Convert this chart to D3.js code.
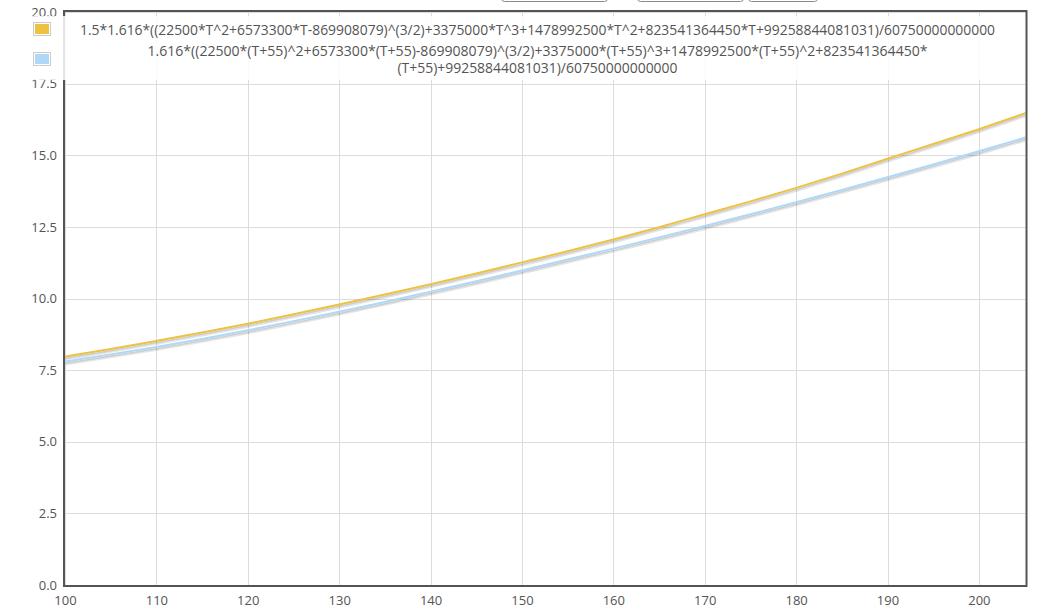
<!DOCTYPE html>
<html>
<head>
<meta charset="utf-8">
<script src="https://cdn.jsdelivr.net/npm/d3@7"></script>
<style>
  html, body { margin: 0; padding: 0; background: #fff; }
  svg { display: block; }
  text { font-family: "Open Sans", sans-serif; }
</style>
</head>
<body>
<svg id="chart" width="1045" height="609"></svg>
<script>
// ---- data ----
const seriesNames = [
  "1.5*1.616*((22500*T^2+6573300*T-869908079)^(3/2)+3375000*T^3+1478992500*T^2+823541364450*T+99258844081031)/60750000000000",
  "1.616*((22500*(T+55)^2+6573300*(T+55)-869908079)^(3/2)+3375000*(T+55)^3+1478992500*(T+55)^2+823541364450*",
  "(T+55)+99258844081031)/60750000000000"
];
const tValues = [100, 105, 110, 115, 120, 125, 130, 135, 140, 145, 150, 155, 160, 165, 170, 175, 180, 185, 190, 195, 200, 205, 210];
const goldValues = [7.97, 8.24, 8.52, 8.81, 9.12, 9.45, 9.79, 10.14, 10.50, 10.87, 11.26, 11.65, 12.06, 12.49, 12.94, 13.39, 13.86, 14.36, 14.88, 15.39, 15.91, 16.46, 17.02];
const blueValues = [7.80, 8.05, 8.31, 8.59, 8.89, 9.21, 9.54, 9.88, 10.24, 10.60, 10.98, 11.36, 11.74, 12.13, 12.53, 12.94, 13.36, 13.79, 14.23, 14.68, 15.14, 15.61, 16.09];
const xTicks = [100, 110, 120, 130, 140, 150, 160, 170, 180, 190, 200];
const yTicks = [0, 2.5, 5, 7.5, 10, 12.5, 15, 17.5, 20];
const xDomain = [100, 205.1];
const yDomain = [0, 20];
const colors = ["#edc240", "#afd8f8"];

// ---- layout ----
const svg = d3.select("#chart");
const L = 65, R = 1025.5, T = 12, B = 585;
const x = d3.scaleLinear().domain(xDomain).range([L, R]);
const y = d3.scaleLinear().domain(yDomain).range([B, T]);
const labelColor = "#545454";

// top clipped buttons
const buttons = [[501, 607], [637, 743], [748, 817]];
svg.append("g").selectAll("rect").data(buttons).join("rect")
  .attr("x", d => d[0] + 0.5).attr("y", -20).attr("width", d => d[1] - d[0]).attr("height", 21.5)
  .attr("rx", 3).attr("fill", "#fff").attr("stroke", "#8a8a8a").attr("stroke-width", 1);

// grid
const grid = svg.append("g");
grid.selectAll("line.v").data(xTicks).join("line")
  .attr("x1", d => Math.round(x(d)) + 0.5).attr("x2", d => Math.round(x(d)) + 0.5)
  .attr("y1", T).attr("y2", B).attr("stroke", "#dcdcdc").attr("stroke-width", 1);
grid.selectAll("line.h").data(yTicks).join("line")
  .attr("y1", d => Math.round(y(d)) + 0.5).attr("y2", d => Math.round(y(d)) + 0.5)
  .attr("x1", L).attr("x2", R).attr("stroke", "#dcdcdc").attr("stroke-width", 1);

// clip
svg.append("clipPath").attr("id", "plotclip").append("rect")
  .attr("x", L).attr("y", T).attr("width", R - L).attr("height", B - T);

const lineGen = d3.line().x(d => x(d[0])).y(d => y(d[1])).curve(d3.curveMonotoneX);
const series = [goldValues, blueValues].map(vals => tValues.map((t, i) => [t, vals[i]]));

const plot = svg.append("g").attr("clip-path", "url(#plotclip)");
const lw = 2, sw = 3, ang = Math.PI / 18;
series.forEach((data, i) => {
  const g = plot.append("g");
  g.append("path").attr("d", lineGen(data)).attr("fill", "none")
    .attr("stroke", "rgba(0,0,0,0.1)").attr("stroke-width", sw)
    .attr("transform", `translate(${Math.sin(ang) * (lw / 2 + sw / 2)},${Math.cos(ang) * (lw / 2 + sw / 2)})`);
  g.append("path").attr("d", lineGen(data)).attr("fill", "none")
    .attr("stroke", "rgba(0,0,0,0.1)").attr("stroke-width", sw / 2)
    .attr("transform", `translate(${Math.sin(ang) * (lw / 2 + sw / 4)},${Math.cos(ang) * (lw / 2 + sw / 4)})`);
  g.append("path").attr("d", lineGen(data)).attr("fill", "none")
    .attr("stroke", colors[i]).attr("stroke-width", lw).attr("stroke-linejoin", "round");
});

// border
svg.append("rect").attr("x", L - 1).attr("y", T - 1).attr("width", R - L + 2).attr("height", B - T + 2)
  .attr("fill", "none").attr("stroke", "#545454").attr("stroke-width", 2);

// axes (labels)
const xAxis = svg.append("g").attr("transform", `translate(0,${B})`)
  .call(d3.axisBottom(x).tickValues(xTicks).tickSize(0).tickPadding(11).tickFormat(d3.format("d")));
const yAxis = svg.append("g").attr("transform", `translate(${L},0)`)
  .call(d3.axisLeft(y).tickValues(yTicks).tickSize(0).tickPadding(8).tickFormat(d3.format(".1f")));
[xAxis, yAxis].forEach(a => {
  a.select(".domain").remove();
  a.selectAll("text").attr("fill", labelColor).style("font-size", "13px").style("font-family", "'Open Sans', sans-serif");
});

// legend
const leg = svg.append("g");
leg.append("rect").attr("x", 27).attr("y", 16).attr("width", 975).attr("height", 64)
  .attr("fill", "#fff").attr("fill-opacity", 0.85);
const sw_y = [22.5, 52.5];
sw_y.forEach((sy, i) => {
  leg.append("rect").attr("x", 33.5).attr("y", sy).attr("width", 17).attr("height", 13)
    .attr("fill", "#fff").attr("stroke", "#ccc").attr("stroke-width", 1);
  leg.append("rect").attr("x", 35).attr("y", sy + 1.5).attr("width", 14).attr("height", 10)
    .attr("fill", colors[i]);
});
const legText = leg.append("g").attr("fill", labelColor).style("font-size", "13.9px").attr("text-anchor", "middle");
const legLines = [[34.5, 915], [55.5, 780], [73, 280]];
legLines.forEach((ln, i) => {
  legText.append("text").attr("x", 537.5).attr("y", ln[0])
    .attr("textLength", ln[1]).attr("lengthAdjust", "spacingAndGlyphs").text(seriesNames[i]);
});
</script>
</body>
</html>
